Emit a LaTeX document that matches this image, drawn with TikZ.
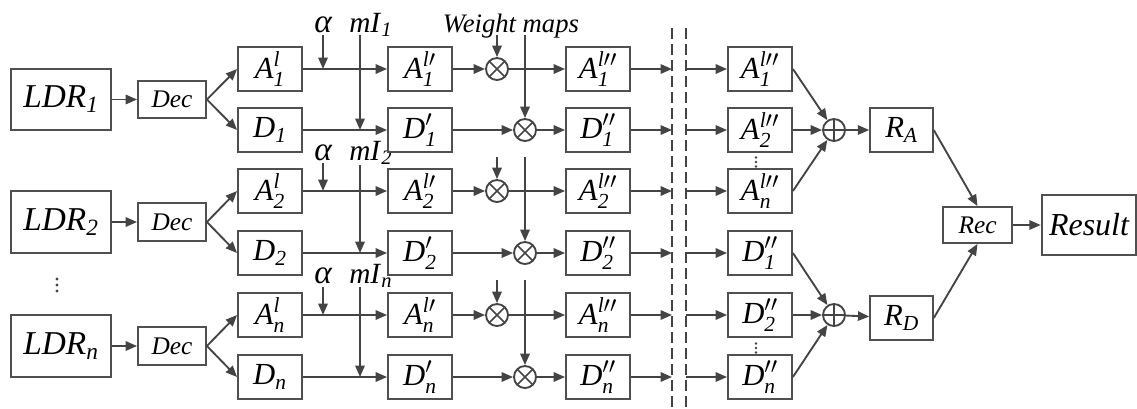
\documentclass[tikz,border=0pt]{standalone}
\usepackage{amsmath}
\usepackage{fontspec}
\setmainfont{Liberation Serif}
\usetikzlibrary{arrows.meta, positioning, calc}

\definecolor{linegray}{HTML}{444444}
\definecolor{boxgray}{HTML}{505050}

\newcommand{\Al}[2]{\textit{A}$^{\textit{l}#2}_{\textit{#1}}$}
\newcommand{\Dl}[2]{\textit{D}$#2_{\textit{#1}}$}
\newcommand{\Sb}[2]{\textit{#1}$_{\textit{#2}}$}

\begin{document}
\begin{tikzpicture}[
    x=0.75pt, y=-0.75pt,
    >={Triangle[length=8.5pt, width=7pt]},
    arrow/.style={->, line width=1.4pt, draw=linegray, fill=linegray},
    box/.style={rectangle, draw=boxgray, line width=1.4pt, inner sep=0pt, minimum width=48pt, minimum height=33pt, font=\fontsize{23}{25}\selectfont},
    ldr/.style={box, minimum width=75pt, minimum height=46pt, font=\fontsize{25}{27}\selectfont},
    dec/.style={box, minimum width=51pt, minimum height=28pt, font=\fontsize{19}{21}\selectfont},
    res/.style={box, minimum width=47pt, minimum height=33pt},
    mult/.style={circle, draw=linegray, line width=1.4pt, inner sep=0pt, minimum size=16.5pt,
        path picture={\draw[line width=1.2pt, draw=linegray] (path picture bounding box.south west) -- (path picture bounding box.north east)
            (path picture bounding box.north west) -- (path picture bounding box.south east);}},
    plus/.style={circle, draw=linegray, line width=1.4pt, inner sep=0pt, minimum size=16.5pt,
        path picture={\draw[line width=1.2pt, draw=linegray] (path picture bounding box.south) -- (path picture bounding box.north)
            (path picture bounding box.west) -- (path picture bounding box.east);}},
    param/.style={anchor=base, inner sep=0pt, font=\itshape\fontsize{25}{27}\selectfont},
    cut/.style={line width=1.2pt, draw=linegray, dash pattern=on 8pt off 4pt},
    dots/.style={fill=linegray}
]
\useasboundingbox (0,0) rectangle (1137,408);

% Inputs
\node[ldr] (ldr1) at (61,99.5) {\Sb{LDR}{1}};
\node[ldr] (ldr2) at (61,222) {\Sb{LDR}{2}};
\node[ldr] (ldrn) at (61,346) {\Sb{LDR}{n}};
\coordinate (vdl) at (57,285);
\fill[dots] ($(vdl)+(0,-6)$) circle (1.3pt) (vdl) circle (1.3pt) ($(vdl)+(0,6)$) circle (1.3pt);

\node[dec] (dec1) at (172,99.5) {\textit{Dec}};
\node[dec] (dec2) at (172,222) {\textit{Dec}};
\node[dec] (decn) at (172,346) {\textit{Dec}};
\draw[arrow] (ldr1) -- (dec1);
\draw[arrow] (ldr2) -- (dec2);
\draw[arrow] (ldrn) -- (decn);

% Decomposition
\node[box] (a1) at (270,69) {\Al{1}{}};
\node[box] (d1) at (270,130) {\Dl{1}{}};
\node[box] (a2) at (270,191) {\Al{2}{}};
\node[box] (d2) at (270,253) {\Dl{2}{}};
\node[box] (an) at (270,315) {\Al{n}{}};
\node[box] (dn) at (270,377) {\Dl{n}{}};
\draw[arrow] (dec1.east) -- (a1.west);
\draw[arrow] (dec1.east) -- (d1.west);
\draw[arrow] (dec2.east) -- (a2.west);
\draw[arrow] (dec2.east) -- (d2.west);
\draw[arrow] (decn.east) -- (an.west);
\draw[arrow] (decn.east) -- (dn.west);

% Parameters
\node[param] (alpha1) at (323,32) {α};
\node[param] (alpha2) at (323,160) {α};
\node[param] (alphan) at (323,283) {α};
\node[param, anchor=base west, font=\fontsize{22}{24}\selectfont] (mi1) at (349,32) {\Sb{mI}{1}};
\node[param, anchor=base west, font=\fontsize{22}{24}\selectfont] (mi2) at (349,160) {\Sb{mI}{2}};
\node[param, anchor=base west, font=\fontsize{22}{24}\selectfont] (min) at (349,283) {\Sb{mI}{n}};
\coordinate (al1top) at (323,35);
\coordinate (al2top) at (323,163);
\coordinate (alntop) at (323,287);
\coordinate (mi1top) at (360,35);
\coordinate (mi2top) at (360,165);
\coordinate (mintop) at (360,287);

\node[box] (a1p) at (420,69) {\Al{1}{\prime}};
\node[box] (d1p) at (420,130) {\Dl{1}{'}};
\node[box] (a2p) at (420,191) {\Al{2}{\prime}};
\node[box] (d2p) at (420,253) {\Dl{2}{'}};
\node[box] (anp) at (420,315) {\Al{n}{\prime}};
\node[box] (dnp) at (420,377) {\Dl{n}{'}};
\draw[arrow] (a1) -- (a1p);
\draw[arrow] (d1) -- (d1p);
\draw[arrow] (a2) -- (a2p);
\draw[arrow] (d2) -- (d2p);
\draw[arrow] (an) -- (anp);
\draw[arrow] (dn) -- (dnp);
\draw[arrow] (al1top) -- (al1top |- a1.east);
\draw[arrow] (al2top) -- (al2top |- a2.east);
\draw[arrow] (alntop) -- (alntop |- an.east);
\draw[arrow] (mi1top) -- (mi1top |- d1.east);
\draw[arrow] (mi2top) -- (mi2top |- d2.east);
\draw[arrow] (mintop) -- (mintop |- dn.east);

% Weighting
\node[param, font=\itshape\fontsize{20}{22}\selectfont] (wmap) at (511,32) {Weight maps};
\node[mult] (ma1) at (497,69) {};
\node[mult] (md1) at (525,130) {};
\node[mult] (ma2) at (497,191) {};
\node[mult] (md2) at (525,253) {};
\node[mult] (man) at (497,315) {};
\node[mult] (mdn) at (525,377) {};
\coordinate (wa1) at (497,35);
\coordinate (wd1) at (525,35);
\coordinate (wa2) at (497,157);
\coordinate (wd2) at (525,157);
\coordinate (wan) at (497,280);
\coordinate (wdn) at (525,280);
\draw[arrow] (wa1) -- (ma1);
\draw[arrow] (wd1) -- (md1);
\draw[arrow] (wa2) -- (ma2);
\draw[arrow] (wd2) -- (md2);
\draw[arrow] (wan) -- (man);
\draw[arrow] (wdn) -- (mdn);

\node[box] (a1pp) at (598,69) {\Al{1}{\prime\prime}};
\node[box] (d1pp) at (598,130) {\Dl{1}{''}};
\node[box] (a2pp) at (598,191) {\Al{2}{\prime\prime}};
\node[box] (d2pp) at (598,253) {\Dl{2}{''}};
\node[box] (anpp) at (598,315) {\Al{n}{\prime\prime}};
\node[box] (dnpp) at (598,377) {\Dl{n}{''}};
\draw[arrow] (a1p) -- (ma1);
\draw[arrow] (d1p) -- (md1);
\draw[arrow] (a2p) -- (ma2);
\draw[arrow] (d2p) -- (md2);
\draw[arrow] (anp) -- (man);
\draw[arrow] (dnp) -- (mdn);
\draw[arrow] (ma1) -- (a1pp);
\draw[arrow] (md1) -- (d1pp);
\draw[arrow] (ma2) -- (a2pp);
\draw[arrow] (md2) -- (d2pp);
\draw[arrow] (man) -- (anpp);
\draw[arrow] (mdn) -- (dnpp);

% Cut
\coordinate (cutl) at (672,28);
\coordinate (cutr) at (686,28);
\draw[cut] (cutl) -- (cutl |- 0,408);
\draw[cut] (cutr) -- (cutr |- 0,408);
\draw[arrow] (a1pp.east) -- (a1pp.east -| cutl);
\draw[arrow] (d1pp.east) -- (d1pp.east -| cutl);
\draw[arrow] (a2pp.east) -- (a2pp.east -| cutl);
\draw[arrow] (d2pp.east) -- (d2pp.east -| cutl);
\draw[arrow] (anpp.east) -- (anpp.east -| cutl);
\draw[arrow] (dnpp.east) -- (dnpp.east -| cutl);

% Fusion
\node[box] (ra1) at (760,69) {\Al{1}{\prime\prime}};
\node[box] (ra2) at (760,130) {\Al{2}{\prime\prime}};
\node[box] (ran) at (760,191) {\Al{n}{\prime\prime}};
\node[box] (rd1) at (760,253) {\Dl{1}{''}};
\node[box] (rd2) at (760,315) {\Dl{2}{''}};
\node[box] (rdn) at (760,377) {\Dl{n}{''}};
\coordinate (vda) at (756,162);
\coordinate (vdd) at (756,348);
\fill[dots] ($(vda)+(0,-4.5)$) circle (1.1pt) (vda) circle (1.1pt) ($(vda)+(0,4.5)$) circle (1.1pt);
\fill[dots] ($(vdd)+(0,-4.5)$) circle (1.1pt) (vdd) circle (1.1pt) ($(vdd)+(0,4.5)$) circle (1.1pt);
\draw[arrow] (ra1.west -| cutr) -- (ra1.west);
\draw[arrow] (ra2.west -| cutr) -- (ra2.west);
\draw[arrow] (ran.west -| cutr) -- (ran.west);
\draw[arrow] (rd1.west -| cutr) -- (rd1.west);
\draw[arrow] (rd2.west -| cutr) -- (rd2.west);
\draw[arrow] (rdn.west -| cutr) -- (rdn.west);

\node[plus] (suma) at (834,130) {};
\node[plus] (sumd) at (834,315) {};
\draw[arrow] (ra1.east) -- (suma);
\draw[arrow] (ra2.east) -- (suma);
\draw[arrow] (ran.east) -- (suma);
\draw[arrow] (rd1.east) -- (sumd);
\draw[arrow] (rd2.east) -- (sumd);
\draw[arrow] (rdn.east) -- (sumd);

\node[res] (resa) at (901.5,130) {\Sb{R}{A}};
\node[res] (resd) at (901.5,318) {\Sb{R}{D}};
\draw[arrow] (suma) -- (resa);
\draw[arrow] (sumd) -- (resd);

% Output
\node[dec, minimum width=52pt, minimum height=27pt] (rec) at (977.5,225) {\textit{Rec}};
\node[box, minimum width=71pt, minimum height=45pt, font=\itshape\fontsize{24}{26}\selectfont] (result) at (1089,225) {Result};
\draw[arrow] (resa.east) -- (rec.north);
\draw[arrow] (resd.east) -- (rec.south);
\draw[arrow] (rec) -- (result);

\end{tikzpicture}
\end{document}
